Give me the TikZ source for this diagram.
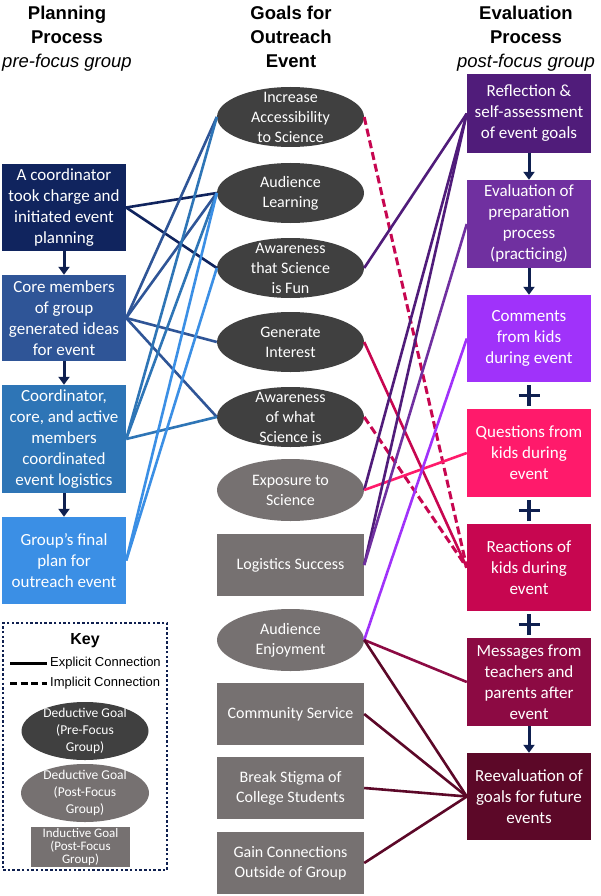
\documentclass[tikz,border=0pt]{standalone}
\usepackage{fontspec}
\setmainfont{Carlito}
\newfontfamily\arialf{Liberation Sans}
\usetikzlibrary{shapes.geometric,arrows.meta}
\definecolor{navyA}{RGB}{16,36,94}
\definecolor{blueB}{RGB}{47,85,151}
\definecolor{blueC}{RGB}{46,117,182}
\definecolor{blueD}{RGB}{59,143,229}
\definecolor{arrowc}{RGB}{15,32,80}
\definecolor{goaldark}{RGB}{64,64,64}
\definecolor{goalpost}{RGB}{118,113,113}
\definecolor{purA}{RGB}{80,28,122}
\definecolor{purB}{RGB}{112,48,160}
\definecolor{purC}{RGB}{160,50,250}
\definecolor{pinkD}{RGB}{255,26,107}
\definecolor{crimE}{RGB}{199,6,80}
\definecolor{wineF}{RGB}{140,10,67}
\definecolor{wineG}{RGB}{92,8,40}
\tikzset{
  lbox/.style={rectangle, minimum width=124pt, inner sep=0pt, text=white,
    font=\fontsize{17}{21}\selectfont, align=center},
  dgoal/.style={ellipse, fill=goaldark, minimum width=147pt, minimum height=60pt, inner sep=0pt},
  pgoal/.style={ellipse, fill=goalpost, minimum width=147pt, minimum height=62pt, inner sep=0pt},
  igoal/.style={rectangle, fill=goalpost, minimum width=147pt, minimum height=62pt, inner sep=0pt},
  gtext/.style={text=white, font=\fontsize{16}{20}\selectfont, align=center, inner sep=0pt},
  ktext/.style={text=white, font=\fontsize{13.5}{17}\selectfont, align=center, inner sep=0pt},
  head/.style={font=\arialf\bfseries\fontsize{18.5}{24}\selectfont, align=center, inner sep=0pt},
  conn/.style={line width=2.6pt},
  impl/.style={line width=3pt, dash pattern=on 8pt off 4pt},
  flow/.style={line width=3pt, draw=arrowc, -{Triangle[width=11pt,length=8pt]}},
  plussign/.style={line width=3.5pt, draw=arrowc},
}
\begin{document}
\begin{tikzpicture}[x=1pt,y=-1pt]
\useasboundingbox[fill=white] (0,0) rectangle (600,896);

% headers
\node[head] (hl) at (67,38.5) {Planning\\Process\\{\mdseries\itshape pre-focus group}};
\node[head] (hm) at (291,36.5) {Goals for\\Outreach\\Event};
\node[head] (hr) at (526,38.5) {Evaluation\\Process\\{\mdseries\itshape post-focus group}};

% left column
\node[lbox, fill=navyA, minimum height=87pt] (l1) at (64,207.5) {A coordinator\\took charge and\\initiated event\\planning};
\node[lbox, fill=blueB, minimum height=86pt] (l2) at (64,318) {Core members\\of group\\generated ideas\\for event};
\node[lbox, fill=blueC, minimum height=108pt] (l3) at (64,439) {Coordinator,\\core, and active\\members\\coordinated\\event logistics};
\node[lbox, fill=blueD, minimum height=87pt] (l4) at (64,560.5) {Group’s final\\plan for\\outreach event};
\draw[flow] (l1.south) -- (l2.north);
\draw[flow] (l2.south) -- (l3.north);
\draw[flow] (l3.south) -- (l4.north);

% middle column
\node[dgoal] (g1) at (290.5,117) {};
\node[gtext] (g1t) at (g1) {Increase\\Accessibility\\to Science};
\node[dgoal] (g2) at (290.5,193) {};
\node[gtext] (g2t) at (g2) {Audience\\Learning};
\node[dgoal] (g3) at (290.5,268) {};
\node[gtext] (g3t) at (g3) {Awareness\\that Science\\is Fun};
\node[dgoal] (g4) at (290.5,342) {};
\node[gtext] (g4t) at (g4) {Generate\\Interest};
\node[dgoal] (g5) at (290.5,417) {};
\node[gtext] (g5t) at (g5) {Awareness\\of what\\Science is};
\node[pgoal] (g6) at (290.5,490) {};
\node[gtext] (g6t) at (g6) {Exposure to\\Science};
\node[igoal] (r1) at (290.5,565) {};
\node[gtext] (r1t) at (r1) {Logistics Success};
\node[pgoal] (g7) at (290.5,640) {};
\node[gtext] (g7t) at (g7) {Audience\\Enjoyment};
\node[igoal] (r2) at (290.5,714) {};
\node[gtext] (r2t) at (r2) {Community Service};
\node[igoal] (r3) at (290.5,788) {};
\node[gtext] (r3t) at (r3) {Break Stigma of\\College Students};
\node[igoal] (r4) at (290.5,863) {};
\node[gtext] (r4t) at (r4) {Gain Connections\\Outside of Group};

% right column
\node[lbox, fill=purA, minimum height=79pt] (b1) at (529,113.5) {Reflection \&\\self-assessment\\of event goals};
\node[lbox, fill=purB, minimum height=88pt] (b2) at (529,224) {Evaluation of\\preparation\\process\\(practicing)};
\node[lbox, fill=purC, minimum height=87pt] (b3) at (529,338.5) {Comments\\from kids\\during event};
\node[lbox, fill=pinkD, minimum height=88pt] (b4) at (529,453) {Questions from\\kids during\\event};
\node[lbox, fill=crimE, minimum height=87pt] (b5) at (529,567.5) {Reactions of\\kids during\\event};
\node[lbox, fill=wineF, minimum height=88pt] (b6) at (529,682) {Messages from\\teachers and\\parents after\\event};
\node[lbox, fill=wineG, minimum height=87pt] (b7) at (529,796.5) {Reevaluation of\\goals for future\\events};
\draw[flow] (b1.south) -- (b2.north);
\draw[flow] (b2.south) -- (b3.north);
\draw[flow] (b6.south) -- (b7.north);
\coordinate (p1) at (529,395.5);
\coordinate (p2) at (529,510.5);
\coordinate (p3) at (529,624.5);
\foreach \p in {p1,p2,p3}{
  \draw[plussign] ([xshift=-10.5pt]\p) -- ([xshift=10.5pt]\p);
  \draw[plussign] ([yshift=-10.5pt]\p) -- ([yshift=10.5pt]\p);
}

% left connectors
\draw[conn, navyA] (l1.east) -- (g2.west);
\draw[conn, navyA] (l1.east) -- (g3.west);
\draw[conn, blueB] (l2.east) -- (g1.west);
\draw[conn, blueB] (l2.east) -- (g2.west);
\draw[conn, blueB] (l2.east) -- (g4.west);
\draw[conn, blueB] (l2.east) -- (g5.west);
\draw[conn, blueC] (l3.east) -- (g1.west);
\draw[conn, blueC] (l3.east) -- (g2.west);
\draw[conn, blueC] (l3.east) -- (g5.west);
\draw[conn, blueD] (l4.east) -- (g2.west);
\draw[conn, blueD] (l4.east) -- (g3.west);

% right connectors
\draw[impl, crimE] (g1.east) -- (b5.west);
\draw[conn, purA] (g3.east) -- (b1.west);
\draw[conn, crimE] (g4.east) -- (b5.west);
\draw[impl, crimE] (g5.east) -- (b5.west);
\draw[conn, purA] (g6.east) -- (b1.west);
\draw[conn, pinkD] (g6.east) -- (b4.west);
\draw[conn, purA] (r1.east) -- (b1.west);
\draw[conn, purB] (r1.east) -- (b2.west);
\draw[conn, purC] (g7.east) -- (b3.west);
\draw[conn, wineF] (g7.east) -- (b6.west);
\draw[conn, wineG] (g7.east) -- (b7.west);
\draw[conn, wineG] (r2.east) -- (b7.west);
\draw[conn, wineG] (r3.east) -- (b7.west);
\draw[conn, wineG] (r4.east) -- (b7.west);

% key
\node[draw=arrowc, line width=2.5pt, dash pattern=on 2.5pt off 2.2pt, minimum width=164pt, minimum height=247pt, inner sep=0pt] (key) at (85,746.5) {};
\node[font=\arialf\bfseries\fontsize{16}{18}\selectfont, inner sep=0pt] (keyt) at (85,641) {Key};
\coordinate (ex1) at (10,663);
\coordinate (ex2) at (47,663);
\coordinate (im1) at (10,683);
\coordinate (im2) at (47,683);
\draw[line width=3pt] (ex1) -- (ex2);
\draw[line width=3pt, dash pattern=on 7pt off 3.5pt] (im1) -- (im2);
\node[anchor=west, font=\arialf\fontsize{13}{15}\selectfont, inner sep=0pt] (ext) at (50,663) {Explicit Connection};
\node[anchor=west, font=\arialf\fontsize{13}{15}\selectfont, inner sep=0pt] (imt) at (50,683) {Implicit Connection};
\node[dgoal, minimum width=127pt, minimum height=58pt] (k1) at (85,731) {};
\node[ktext] (k1t) at (k1) {Deductive Goal\\(Pre-Focus\\Group)};
\node[pgoal, minimum width=128pt, minimum height=58pt] (k2) at (85,793) {};
\node[ktext] (k2t) at (k2) {Deductive Goal\\(Post-Focus\\Group)};
\node[igoal, minimum width=99pt, minimum height=40pt] (k3) at (80.5,847) {};
\node[ktext, font=\fontsize{13}{13}\selectfont] (k3t) at (k3) {Inductive Goal\\(Post-Focus\\Group)};
\end{tikzpicture}
\end{document}
